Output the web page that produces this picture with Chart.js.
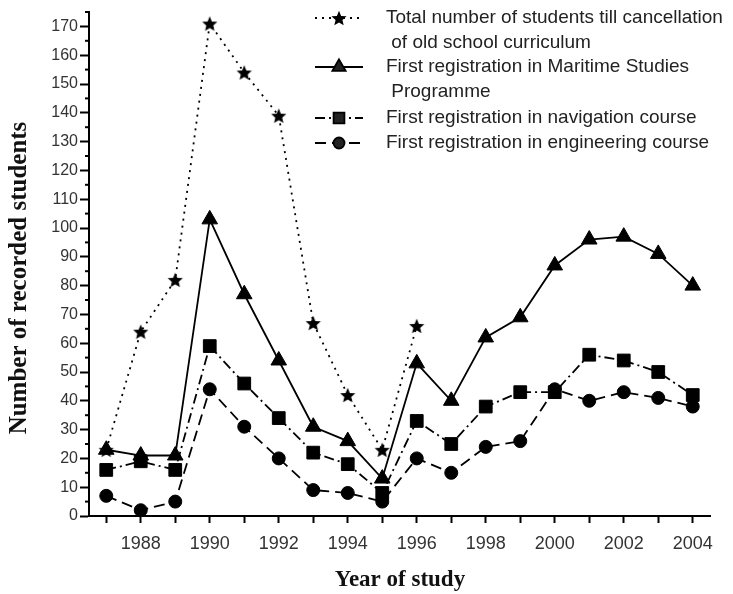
<!DOCTYPE html>
<html><head><meta charset="utf-8">
<script src="https://cdn.jsdelivr.net/npm/chart.js@4"></script>
<style>html,body{margin:0;padding:0;background:#fff}#wrap{width:733px;height:594px;position:relative}</style>
</head><body><div id="wrap"><canvas id="c" width="733" height="594"></canvas></div>
<script>
const years = [1987,1988,1989,1990,1991,1992,1993,1994,1995,1996,1997,1998,1999,2000,2001,2002,2003,2004];
const totalStudents = [23,64,82,171,154,139,67,42,23,66,null,null,null,null,null,null,null,null];
const maritimeStudies = [23,21,21,103,77,54,31,26,13,53,40,62,69,87,96,97,91,80];
const navigationCourse = [16,19,16,59,46,34,22,18,8,33,25,38,43,43,56,54,50,42];
const engineeringCourse = [7,2,5,44,31,20,9,8,5,20,15,24,26,44,40,43,41,38];
const seriesLabels = [
  ["Total number of students till cancellation", " of old school curriculum"],
  ["First registration in Maritime Studies", " Programme"],
  ["First registration in navigation course"],
  ["First registration in engineering course"]
];
const xTitle = "Year of study";
const yTitle = "Number of recorded students";

function starCanvas(r){
  const c=document.createElement('canvas');c.width=c.height=r*2+2;
  const g=c.getContext('2d');g.fillStyle='#000';g.beginPath();
  for(let i=0;i<10;i++){const rr=i%2?r*0.45:r;const a=-Math.PI/2+i*Math.PI/5;
    const px=r+1+rr*Math.cos(a), py=r+1+rr*Math.sin(a)+r*0.1; i?g.lineTo(px,py):g.moveTo(px,py);}
  g.closePath();g.fill();return c;
}
const star=starCanvas(8);
const pts = arr => years.map((y,i)=>({x:y,y:arr[i]}));
const FONT='"Liberation Sans", Arial, sans-serif';
const styles=[
  {dash:[2,5],style:star,r:8,w:1.8},
  {dash:[],style:'triangle',r:9,w:1.8},
  {dash:[10,4,2,4],style:'rect',r:9,w:1.8},
  {dash:[11,6],style:'circle',r:6.5,w:1.8}
];
const data=[totalStudents,maritimeStudies,navigationCourse,engineeringCourse];

const extras={id:'extras',
  afterDraw(chart){
    const ctx=chart.ctx, y=chart.scales.y;
    ctx.save();
    ctx.strokeStyle='#000';ctx.lineWidth=2;
    for(let v=5;v<=175;v+=10){const py=y.getPixelForValue(v);ctx.beginPath();ctx.moveTo(y.right-4,py);ctx.lineTo(y.right,py);ctx.stroke();}
    ctx.fillStyle='#111';ctx.textAlign='center';ctx.textBaseline='middle';
    ctx.font='bold 23px "Liberation Serif", "Times New Roman", serif';
    ctx.fillText(xTitle,400,580);
    ctx.font='bold 25px "Liberation Serif", "Times New Roman", serif';
    ctx.save();ctx.translate(20,278);ctx.rotate(-Math.PI/2);ctx.fillText(yTitle,0,0);ctx.restore();
    const rows=[18,67,118,143];
    ctx.font='19px '+FONT;ctx.textAlign='left';
    styles.forEach((s,i)=>{
      const ly=rows[i];
      ctx.strokeStyle='#000';ctx.lineWidth=s.w;ctx.setLineDash(s.dash);
      ctx.beginPath();ctx.moveTo(315,ly);ctx.lineTo(363,ly);ctx.stroke();ctx.setLineDash([]);
      Chart.helpers.drawPoint(ctx,{pointStyle:s.style,radius:s.r*0.85,borderWidth:1},339,ly);
      ctx.fillStyle='#222';
      seriesLabels[i].forEach((t,k)=>ctx.fillText(t,386,ly+k*25));
    });
    ctx.restore();
  }};

new Chart(document.getElementById('c'),{
  type:'line',
  data:{datasets:data.map((d,i)=>({
    data:pts(d),borderColor:'#000',backgroundColor:'#000',borderWidth:styles[i].w,
    borderDash:styles[i].dash,pointStyle:styles[i].style,pointRadius:styles[i].r,
    pointBorderColor:'#000',pointBackgroundColor:'#000',pointBorderWidth:1,
    tension:0,spanGaps:false,order:i===0?5:i
  }))},
  options:{
    responsive:false,animation:false,devicePixelRatio:1,
    layout:{padding:{top:12,right:23,left:0,bottom:0}},
    plugins:{legend:{display:false},tooltip:{enabled:false}},
    scales:{
      x:{type:'linear',min:1986.5,max:2004.5,
        afterBuildTicks:s=>{s.ticks=years.map(v=>({value:v}));},
        ticks:{autoSkip:false,maxRotation:0,color:'#333',font:{family:FONT,size:18},padding:10,
          callback:v=>(v%2===0)?String(v):''},
        grid:{drawOnChartArea:false,tickLength:7,tickWidth:2,color:'#000'},
        border:{color:'#000',width:2},
        afterFit:s=>{s.height=78;}},
      y:{min:0,max:175,
        ticks:{stepSize:5,autoSkip:false,color:'#333',font:{family:FONT,size:16},padding:2,
          callback:v=>(v%10===0)?String(v):''},
        grid:{drawOnChartArea:false,tickLength:9,tickWidth:2,
          color:c=>(c.tick&&c.tick.value%10===0)?'#000':'rgba(0,0,0,0)'},
        border:{color:'#000',width:2},
        afterFit:s=>{s.width=89;}}
    }
  },
  plugins:[extras]
});
</script></body></html>
